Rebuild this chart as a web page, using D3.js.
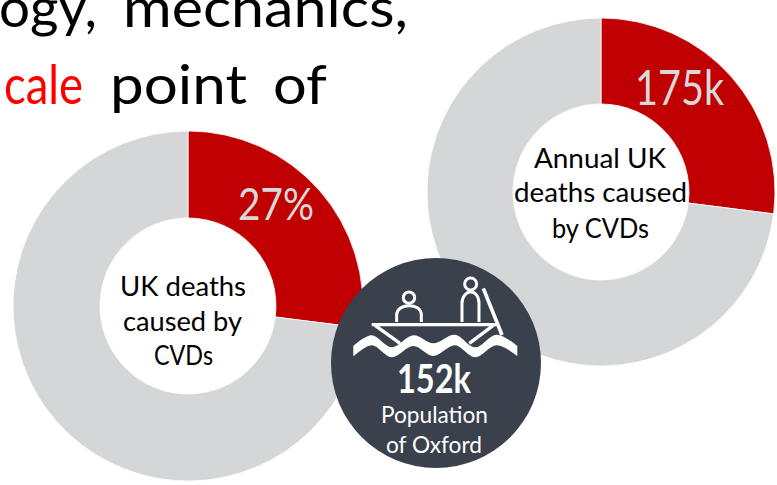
<!DOCTYPE html>
<html>
<head>
<meta charset="utf-8">
<script src="https://cdn.jsdelivr.net/npm/d3@7"></script>
<style>
html,body{margin:0;padding:0;background:#fff;overflow:hidden}
svg{display:block}
text{font-family:Lato,"Open Sans",sans-serif}
</style>
</head>
<body>
<svg id="chart" width="777" height="485"></svg>
<script>
// Share of UK deaths, as a percentage
const shareSegments = ["CVDs", "Other causes"];
const shareValues = [27, 73];
// Annual UK deaths, in thousands
const annualValues = [175, 473];
const shareCaption = ["UK deaths", "caused by", "CVDs"];
const annualCaption = ["Annual UK", "deaths caused", "by CVDs"];
const oxfordCaption = ["Population", "of Oxford"];
const sliceColours = ["#c00000", "#d5d6d8"];

const svg = d3.select("#chart");
const colour = d3.scaleOrdinal(shareSegments, sliceColours);
const pie = d3.pie().sort(null);

// One line of text squeezed to a known left/right extent
function fitted(parent, str, x0, x1, baseline, size, fill, weight) {
  return parent.append("text")
    .attr("x", x0).attr("y", baseline)
    .attr("textLength", x1 - x0).attr("lengthAdjust", "spacingAndGlyphs")
    .attr("font-size", size).attr("font-weight", weight || 400)
    .attr("fill", fill).text(str);
}

function donut(cx, cy, outer, inner, values) {
  const g = svg.append("g").attr("transform", `translate(${cx},${cy})`);
  const arc = d3.arc().innerRadius(inner).outerRadius(outer);
  g.selectAll("path").data(pie(values)).join("path")
    .attr("d", arc)
    .attr("fill", (d, i) => colour(shareSegments[i]))
    .attr("stroke", "#fff").attr("stroke-width", 0.8);
}

donut(601, 192, 174, 88, annualValues);
donut(188, 306, 175, 88, shareValues);

// Heading, running off the top and left edges
fitted(svg, "ogy,", -1, 97, 27, 54, "#000");
fitted(svg, "mechanics,", 123, 408, 27, 54, "#000");
fitted(svg, "cale", 4, 83, 104, 54, "#ff0000");
fitted(svg, "point", 110, 247, 104, 54, "#000");
fitted(svg, "of", 273, 327, 104, 54, "#000");

// Donut values and captions
fitted(svg, `${shareValues[0]}%`, 238, 314, 220, 44, "#d9d9d9");
fitted(svg, `${annualValues[0]}k`, 635, 724, 105, 48, "#d9d9d9");

[[120, 246, 296], [123, 242, 331], [154, 213, 365]].forEach(([a, b, y], i) =>
  fitted(svg, shareCaption[i], a, b, y, 26, "#000"));
[[534, 666, 168], [514, 687, 202], [552, 649, 238]].forEach(([a, b, y], i) =>
  fitted(svg, annualCaption[i], a, b, y, 26, "#000"));

// Oxford badge
svg.append("circle").attr("cx", 436).attr("cy", 363).attr("r", 105).attr("fill", "#3a404c");

const icon = svg.append("g").attr("transform", "translate(320,260) scale(0.3333)");
const strokeWhite = (sel, w) => sel.attr("fill", "none").attr("stroke", "#fff").attr("stroke-width", w);
const curve = d3.line().curve(d3.curveCatmullRom.alpha(0.5));

// Passengers
strokeWhite(icon.append("circle").attr("cx", 267).attr("cy", 113).attr("r", 17), 9);
strokeWhite(icon.append("path").attr("d", "M230,186V166C230,145 250,137 267,137C285,137 304,145 304,166V186"), 9);
strokeWhite(icon.append("circle").attr("cx", 452).attr("cy", 72).attr("r", 18), 9);
strokeWhite(icon.append("path").attr("d", "M426,186V130C426,108 440,96 452,96C465,96 477,108 477,130V186"), 9);
// Punt pole
strokeWhite(icon.append("path").attr("d", "M490,85L546,225"), 11);
// Hull
strokeWhite(icon.append("path").attr("d", "M155,194H528M165,196L240,250M520,196L448,250"), 10);
// Water
const upper = [[100, 258], [155, 226], [215, 262], [280, 226], [340, 250], [405, 224], [465, 262], [530, 224], [592, 258]];
const lower = [[592, 288], [530, 256], [465, 292], [405, 256], [340, 288], [280, 258], [215, 292], [155, 256], [100, 290]];
icon.append("path").attr("fill", "#fff")
  .attr("d", curve(upper) + "L" + curve(lower).slice(1) + "Z");

fitted(svg, "152k", 397, 471, 393, 40, "#fff", 700);
fitted(svg, oxfordCaption[0], 381, 488, 423, 24, "#fff");
fitted(svg, oxfordCaption[1], 386, 482, 453, 24, "#fff");
</script>
</body>
</html>
